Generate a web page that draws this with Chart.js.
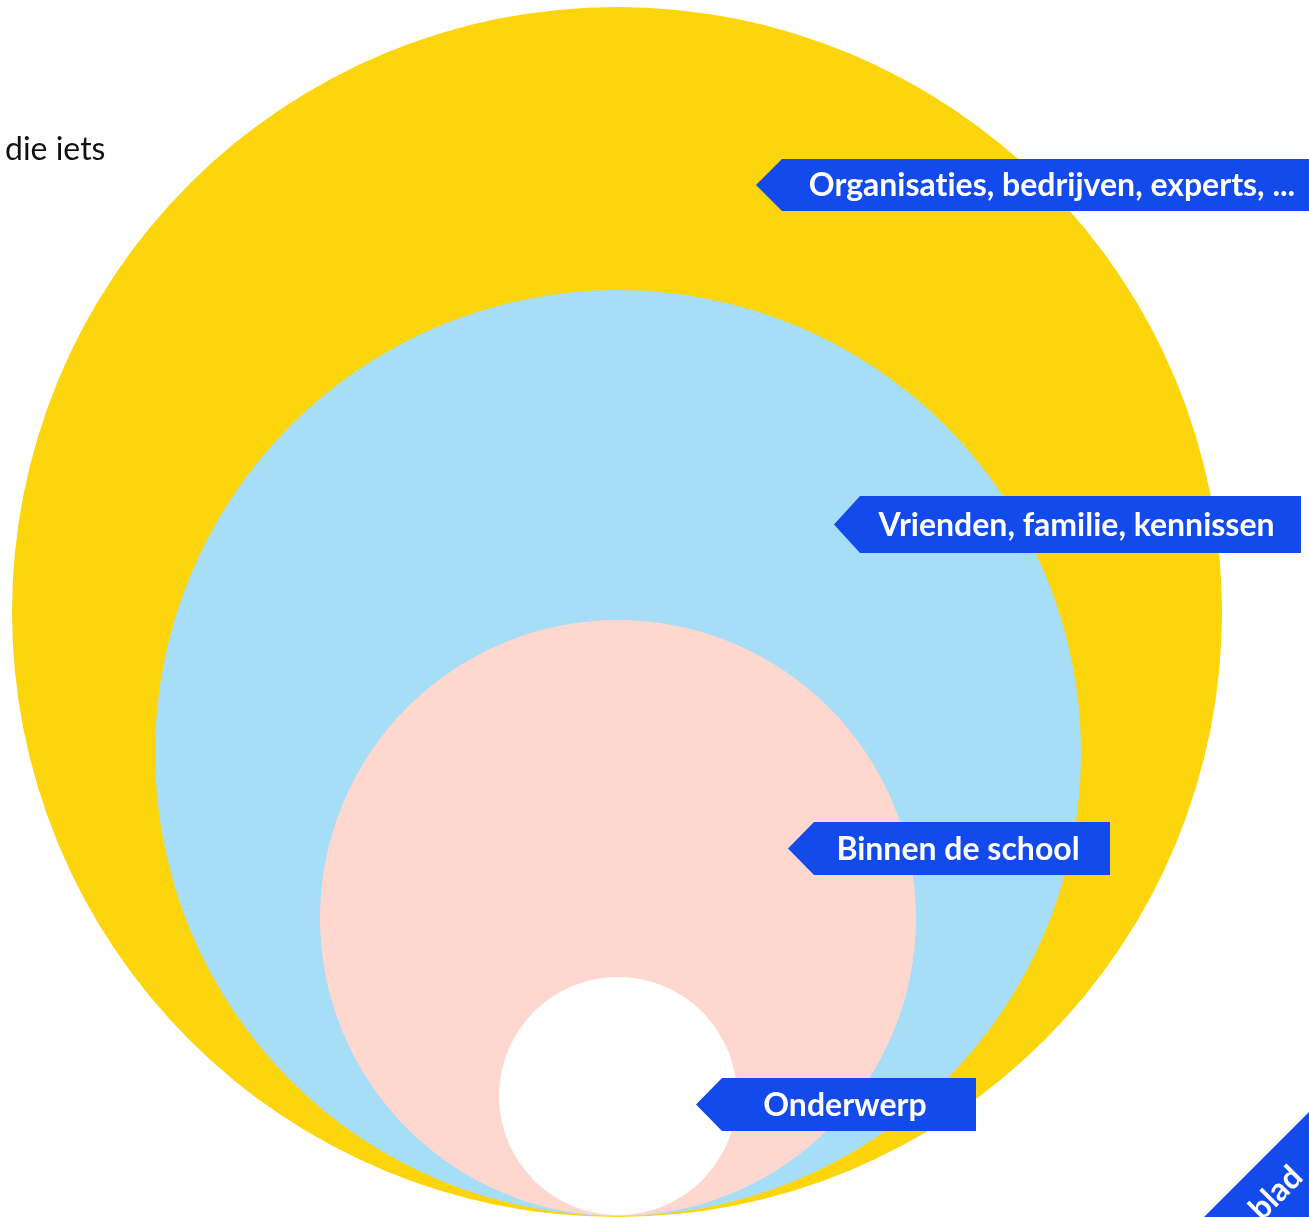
<!DOCTYPE html>
<html>
<head>
<meta charset="utf-8">
<script src="https://cdn.jsdelivr.net/npm/chart.js@4/dist/chart.umd.min.js"></script>
<style>
  html, body { margin: 0; padding: 0; background: #fff; overflow: hidden; }
  #wrap { position: relative; width: 1309px; height: 1217px; }
  #note { position: absolute; left: 5px; top: 129px; font: 32px Lato, sans-serif; line-height: 1.2; color: #111; }
  canvas { position: absolute; left: 0; top: 0; }
</style>
</head>
<body>
<div id="wrap">
  <canvas id="chart" width="1309" height="1217"></canvas>
  <div id="note">die iets</div>
</div>
<script>
// rings from outside to inside
const rings = ['Organisaties, bedrijven, experts, ...', 'Vrienden, familie, kennissen', 'Binnen de school', 'Onderwerp'];
const ringRadius = [605, 463, 298, 119];
const ringCenterX = [617, 618, 618, 618];
const ringCenterY = [605, 464, 299, 121];
const ringColors = ['#fcd50c', '#a6ddf7', '#fed8cf', '#ffffff'];

// tag placement (tip x, middle y, right edge, height) in axis units
const tagLayout = [
  { tip: 756, y: 1032, right: 1330, h: 52 },
  { tip: 834, y: 692.5, right: 1301, h: 57 },
  { tip: 788, y: 368.5, right: 1110, h: 53 },
  { tip: 696, y: 112.5, right: 976, h: 53 }
];
const cornerLabel = 'blad';
const tagBlue = '#124aec';

const datasets = rings.map((name, i) => ({
  label: name,
  data: [{ x: ringCenterX[i], y: ringCenterY[i], size: ringRadius[i] }],
  backgroundColor: ringColors[i],
  borderWidth: 0,
  pointRadius: ctx => {
    const s = ctx.chart.scales.x;
    return s.getPixelForValue(ctx.raw.size) - s.getPixelForValue(0);
  },
  pointHoverRadius: ctx => {
    const s = ctx.chart.scales.x;
    return s.getPixelForValue(ctx.raw.size) - s.getPixelForValue(0);
  }
})).reverse(); // first dataset is drawn on top

const tags = {
  id: 'tags',
  afterDatasetsDraw(chart) {
    const { ctx, scales: { x, y } } = chart;
    ctx.save();
    rings.forEach((name, i) => {
      const t = tagLayout[i];
      const tx = x.getPixelForValue(t.tip);
      const cy = y.getPixelForValue(t.y);
      const rx = x.getPixelForValue(t.right);
      const h = t.h, d = 26;
      ctx.fillStyle = tagBlue;
      ctx.beginPath();
      ctx.moveTo(tx, cy);
      ctx.lineTo(tx + d, cy - h / 2);
      ctx.lineTo(rx, cy - h / 2);
      ctx.lineTo(rx, cy + h / 2);
      ctx.lineTo(tx + d, cy + h / 2);
      ctx.closePath();
      ctx.fill();
      ctx.fillStyle = '#fff';
      ctx.font = 'bold 32px Lato, sans-serif';
      ctx.textAlign = 'center';
      ctx.textBaseline = 'middle';
      // zero-width non-joiner keeps Lato from using its "ti" ligature
      ctx.fillText(name.replace(/ti/g, 't\u200Ci'), (tx + d + rx) / 2 - 4, cy + 1);
    });

    // corner ribbon
    const W = chart.width, H = chart.height;
    ctx.fillStyle = tagBlue;
    ctx.beginPath();
    ctx.moveTo(W - 105, H);
    ctx.lineTo(W, H - 105);
    ctx.lineTo(W, H);
    ctx.closePath();
    ctx.fill();
    ctx.translate(W - 33, H - 24);
    ctx.rotate(-Math.PI / 4);
    ctx.fillStyle = '#fff';
    ctx.font = 'bold 32px Lato, sans-serif';
    ctx.textAlign = 'center';
    ctx.textBaseline = 'middle';
    ctx.fillText(cornerLabel, 0, 0);
    ctx.restore();
  }
};

new Chart(document.getElementById('chart'), {
  type: 'scatter',
  data: { datasets },
  options: {
    responsive: false,
    animation: false,
    events: [],
    layout: { padding: 0 },
    plugins: { legend: { display: false }, tooltip: { enabled: false } },
    scales: {
      x: { type: 'linear', min: 0, max: 1309, display: false },
      y: { type: 'linear', min: 0, max: 1217, display: false }
    }
  },
  plugins: [tags]
});
</script>
</body>
</html>
